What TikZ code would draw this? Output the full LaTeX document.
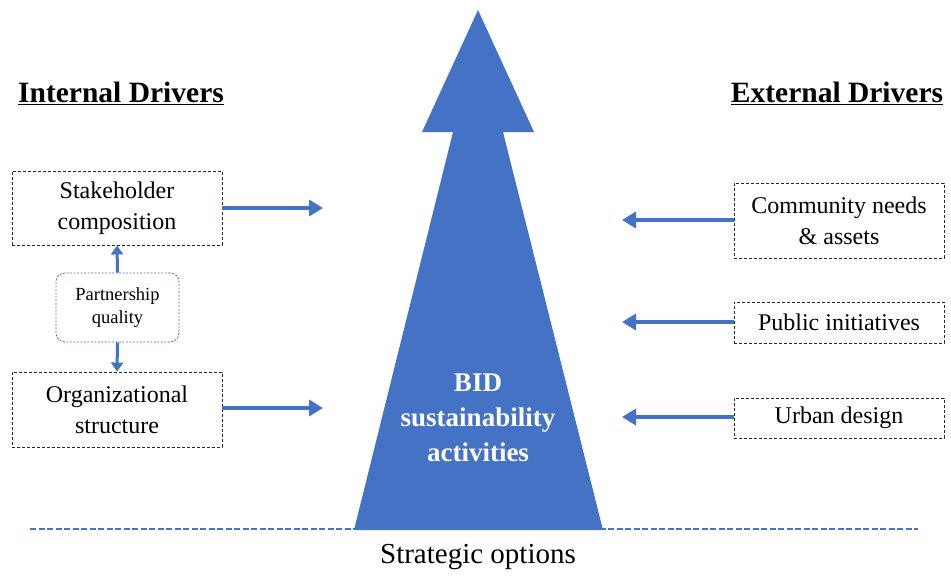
\documentclass[tikz,border=0pt]{standalone}
\usepackage{fontspec}
\setmainfont{Liberation Serif}
\usetikzlibrary{arrows.meta}
\definecolor{bl}{HTML}{4472C4}
\begin{document}
\begin{tikzpicture}[x=1pt,y=-1pt,
  drvbox/.style={draw=black!85, dash pattern=on 3pt off 2pt, line width=0.9pt, align=center, inner sep=0pt, font=\fontsize{24}{31}\selectfont},
  pqbox/.style={draw=bl, dash pattern=on 2pt off 1.5pt, line width=0.8pt, rounded corners=9pt, align=center, inner sep=0pt, font=\fontsize{18.5}{23}\selectfont},
  barrow/.style={draw=bl, line width=4pt, -{Triangle[length=14pt,width=16pt]}},
  sarrow/.style={draw=bl, line width=3pt, -{Triangle[length=9pt,width=12pt]}},
  head/.style={font=\fontsize{29.5}{34}\selectfont\bfseries}]
\useasboundingbox (0,0) rectangle (951,579);
% baseline dashed
\coordinate (bl1) at (30,529);
\coordinate (bl2) at (918,529);
\draw[bl, line width=2pt, dash pattern=on 6pt off 2.5pt] (bl1) -- (bl2);
% big arrow
\fill[bl] (478,10) -- (534,132) -- (503,132) -- (603,530) -- (354,530) -- (453,132) -- (422,132) -- cycle;
\node[white, align=center, font=\fontsize{27}{35}\selectfont\bfseries] (bid) at (478,418) {BID\\sustainability\\activities};
\node[font=\fontsize{29}{34}\selectfont] (so) at (478,557) {Strategic options};
% headers
\node[head] (int) at (121,93) {\underline{Internal Drivers}};
\node[head] (ext) at (837,93) {\underline{External Drivers}};
% left boxes
\node[drvbox, minimum width=210pt, minimum height=74pt] (sc) at (117,208) {Stakeholder\\composition};
\node[drvbox, minimum width=210pt, minimum height=75pt] (os) at (117,409.5) {Organizational\\structure};
\node[pqbox, minimum width=123pt, minimum height=69pt] (pq) at (117.5,307.5) {Partnership\\quality};
\draw[sarrow] (pq.north) -- (sc.south);
\draw[sarrow] (pq.south) -- (os.north);
\coordinate (sct) at (323,208);
\coordinate (ost) at (323,408);
\draw[barrow] (sc.east |- sct) -- (sct);
\draw[barrow] (os.east |- ost) -- (ost);
% right boxes
\node[drvbox, minimum width=210pt, minimum height=75pt] (cn) at (839,220.5) {Community needs\\\& assets};
\node[drvbox, minimum width=210pt, minimum height=41pt] (pi) at (839,322.5) {Public initiatives};
\node[drvbox, minimum width=210pt, minimum height=40pt] (ud) at (839,418) {Urban design};
\coordinate (cnt) at (622,220);
\coordinate (pit) at (622,322);
\coordinate (udt) at (622,417);
\draw[barrow] (cn.west |- cnt) -- (cnt);
\draw[barrow] (pi.west |- pit) -- (pit);
\draw[barrow] (ud.west |- udt) -- (udt);
\end{tikzpicture}
\end{document}
